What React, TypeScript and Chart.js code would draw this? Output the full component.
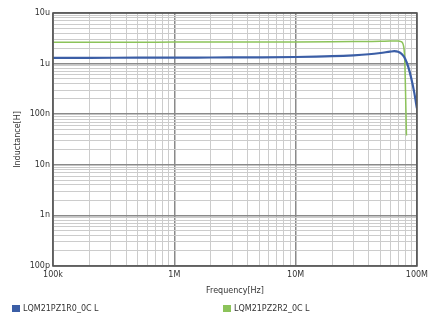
import React, { useEffect, useRef } from "react";
import { Chart, registerables } from "chart.js";

Chart.register(...registerables);

// Frequency [Hz]
const blueFreq = [1e5, 2e5, 5e5, 1e6, 2e6, 5e6, 1e7, 2e7, 3e7, 4e7, 5e7, 6e7, 6.5e7, 7e7, 7.5e7, 8e7, 8.5e7, 9e7, 9.5e7, 1e8];
// Inductance [H]
const blueL = [1.3e-6, 1.3e-6, 1.31e-6, 1.31e-6, 1.32e-6, 1.33e-6, 1.35e-6, 1.4e-6, 1.46e-6, 1.53e-6, 1.62e-6, 1.72e-6, 1.76e-6, 1.72e-6, 1.55e-6, 1.25e-6, 0.85e-6, 0.5e-6, 0.27e-6, 0.13e-6];

const greenFreq = [1e5, 2e5, 5e5, 1e6, 2e6, 5e6, 1e7, 2e7, 3e7, 5e7, 6e7, 7e7, 7.4e7, 7.7e7, 7.9e7, 8e7, 8.1e7, 8.2e7];
const greenL = [2.65e-6, 2.65e-6, 2.65e-6, 2.66e-6, 2.66e-6, 2.67e-6, 2.68e-6, 2.7e-6, 2.72e-6, 2.76e-6, 2.8e-6, 2.8e-6, 2.72e-6, 2.4e-6, 1.5e-6, 0.6e-6, 0.15e-6, 0.038e-6];

const seriesNames = ["LQM21PZ1R0_0C L", "LQM21PZ2R2_0C L"];
const seriesColors = ["#3b5ea6", "#8cc35a"];

const xDecades = [5, 6, 7, 8];
const xDecadeLabels = ["100k", "1M", "10M", "100M"];
const yDecades = [-10, -9, -8, -7, -6, -5];
const yDecadeLabels = ["100p", "1n", "10n", "100n", "1u", "10u"];
const minorSteps = [1, 2, 3, 4, 5, 6, 7, 8, 9];

const FONT = "'DejaVu Sans', sans-serif";

function buildTicks(decades: number[]) {
  const out: { value: number; major: boolean; label: string }[] = [];
  for (let i = 0; i < decades.length; i++) {
    const d = decades[i];
    for (const m of minorSteps) {
      if (i === decades.length - 1 && m > 1) break;
      out.push({ value: m * Math.pow(10, d), major: m === 1, label: "" });
    }
  }
  return out;
}

function labelFor(value: number, decades: number[], labels: string[]) {
  const e = Math.log10(value);
  const r = Math.round(e);
  if (Math.abs(e - r) < 1e-6) {
    const idx = decades.indexOf(r);
    if (idx >= 0) return labels[idx];
  }
  return "";
}

const frameAndLegend = {
  id: "frameAndLegend",
  afterDatasetsDraw(chart: any) {
    const { ctx, chartArea } = chart;
    ctx.save();
    ctx.strokeStyle = "#555";
    ctx.lineWidth = 1.6;
    ctx.strokeRect(chartArea.left, chartArea.top, chartArea.right - chartArea.left, chartArea.bottom - chartArea.top);
    ctx.restore();
  },
  afterDraw(chart: any) {
    const { ctx } = chart;
    ctx.save();
    const xs = [12, 223];
    ctx.font = "8px " + FONT;
    ctx.textBaseline = "middle";
    ctx.textAlign = "left";
    for (let i = 0; i < seriesNames.length; i++) {
      ctx.fillStyle = seriesColors[i];
      ctx.fillRect(xs[i], 305, 8, 7);
      ctx.fillStyle = "#333";
      ctx.fillText(seriesNames[i], xs[i] + 11, 309);
    }
    ctx.restore();
  },
};

export default function App() {
  const ref = useRef<HTMLCanvasElement | null>(null);
  useEffect(() => {
    if (!ref.current) return;
    const toPts = (xs: number[], ys: number[]) => xs.map((x, i) => ({ x, y: ys[i] }));
    const gridColor = (c: any) => (c.tick && c.tick.major ? "#8a8a8a" : "#cccccc");
    const gridWidth = (c: any) => (c.tick && c.tick.major ? 1.5 : 1);
    const chart = new Chart(ref.current, {
      type: "line",
      data: {
        datasets: [
          {
            label: seriesNames[0],
            data: toPts(blueFreq, blueL),
            borderColor: seriesColors[0],
            backgroundColor: seriesColors[0],
            borderWidth: 2.2,
            pointRadius: 0,
            cubicInterpolationMode: "monotone",
          },
          {
            label: seriesNames[1],
            data: toPts(greenFreq, greenL),
            borderColor: seriesColors[1],
            backgroundColor: seriesColors[1],
            borderWidth: 1.5,
            pointRadius: 0,
            cubicInterpolationMode: "monotone",
          },
        ],
      },
      options: {
        responsive: false,
        animation: false,
        layout: { padding: { top: 13, right: 12, bottom: 22, left: 0 } },
        plugins: { legend: { display: false }, tooltip: { enabled: false } },
        scales: {
          x: {
            type: "logarithmic",
            min: 1e5,
            max: 1e8,
            afterBuildTicks: (s: any) => {
              s.ticks = buildTicks(xDecades);
            },
            afterFit: (s: any) => {
              s.height = 32;
            },
            ticks: {
              autoSkip: false,
              maxRotation: 0,
              padding: 4,
              color: "#333",
              font: { size: 8, family: FONT },
              callback: (v: any) => labelFor(Number(v), xDecades, xDecadeLabels),
            },
            grid: { color: gridColor, lineWidth: gridWidth, drawTicks: false },
            border: { display: false },
            title: {
              display: true,
              text: "Frequency[Hz]",
              color: "#333",
              font: { size: 8, family: FONT },
              padding: { top: 2, bottom: 2 },
            },
          },
          y: {
            type: "logarithmic",
            min: 1e-10,
            max: 1e-5,
            afterBuildTicks: (s: any) => {
              s.ticks = buildTicks(yDecades);
            },
            afterFit: (s: any) => {
              s.width = 53;
            },
            ticks: {
              autoSkip: false,
              padding: 3,
              color: "#333",
              font: { size: 8, family: FONT },
              callback: (v: any) => labelFor(Number(v), yDecades, yDecadeLabels),
            },
            grid: { color: gridColor, lineWidth: gridWidth, drawTicks: false },
            border: { display: false },
            title: {
              display: true,
              text: "Inductance[H]",
              color: "#333",
              font: { size: 8, family: FONT },
              padding: { top: 13, bottom: 0 },
            },
          },
        },
      } as any,
      plugins: [frameAndLegend],
    });
    return () => chart.destroy();
  }, []);
  return (
    <div style={{ position: "absolute", left: 0, top: 0, width: 432, height: 320, background: "#fff" }}>
      <canvas ref={ref} width={432} height={320} style={{ display: "block" }} />
    </div>
  );
}
